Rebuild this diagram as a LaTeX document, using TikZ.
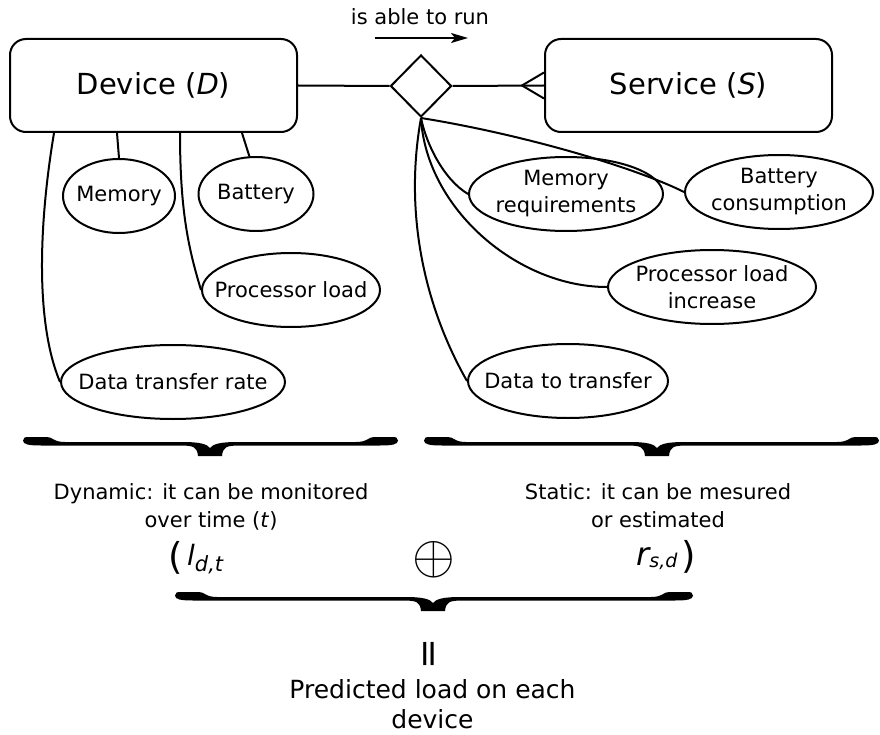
\documentclass[tikz,border=0pt]{standalone}
\usepackage{graphicx}
\usepackage{fontspec}
\setmainfont{DejaVu Sans}
\usetikzlibrary{shapes.geometric,arrows.meta,calc}

\newcommand\fsz[1]{\fontsize{#1}{#1}\selectfont}

% horizontal curly brace with heavy ends and stem: x-left, x-right, x-tip, y-top
\newcommand\curlybrace[4]{%
  \fill (#1,#4+3.5)
    .. controls (#1,#4+0.5) and (#1+2,#4) .. (#1+6,#4)
    -- (#1+24,#4)
    .. controls (#1+30,#4) and (#1+30,#4+5) .. (#1+42,#4+5)
    -- (#3-28,#4+5)
    .. controls (#3-10,#4+5) and (#3-3,#4+7) .. (#3,#4+11)
    .. controls (#3+3,#4+7) and (#3+10,#4+5) .. (#3+28,#4+5)
    -- (#2-42,#4+5)
    .. controls (#2-30,#4+5) and (#2-30,#4) .. (#2-24,#4)
    -- (#2-6,#4)
    .. controls (#2-2,#4) and (#2,#4+0.5) .. (#2,#4+3.5)
    .. controls (#2,#4+7.5) and (#2-6,#4+8.5) .. (#2-18,#4+8.5)
    -- (#3+30,#4+8.5)
    .. controls (#3+16,#4+8.5) and (#3+13,#4+10) .. (#3+12,#4+19)
    -- (#3-12,#4+19)
    .. controls (#3-13,#4+10) and (#3-16,#4+8.5) .. (#3-30,#4+8.5)
    -- (#1+18,#4+8.5)
    .. controls (#1+6,#4+8.5) and (#1,#4+7.5) .. (#1,#4+3.5) -- cycle;}

\tikzset{
  entity/.style={draw, line width=2pt, rounded corners=16pt,
    minimum width=287pt, minimum height=93pt, inner sep=0pt, font=\fsz{29}},
  oval/.style={draw, ellipse, line width=2pt, inner sep=0pt, minimum height=74pt},
  ovaltext/.style={align=center, inner sep=0pt, font=\fontsize{21}{27}\selectfont},
  relation/.style={draw, diamond, line width=2pt, inner sep=0pt,
    minimum width=61pt, minimum height=62pt},
  link/.style={line width=2pt},
  note/.style={align=center, inner sep=0pt, font=\fontsize{21}{28}\selectfont},
}

\begin{document}
\begin{tikzpicture}[x=1pt, y=-1pt]
\useasboundingbox (0,0) rectangle (880,735);

% entities and relationship
\node[entity] (dev) at (153.5,85.5) {Device (\textit{D})};
\node[entity] (srv) at (688.5,85.5) {Service (\textit{S})};
\node[relation] (rel) at (421,86) {};

\node[inner sep=0pt, font=\fsz{21}] (runlbl) at (420,17) {is able to run};
\coordinate (ra) at (375,38);
\coordinate (rb) at (468,38);
\draw[link, -{Stealth[length=17pt, width=10pt, inset=4pt]}] (ra) -- (rb);

\draw[link] (dev.east) -- (rel.west);
\draw[link] (rel.east) -- (srv.west);
\coordinate (crow) at ($(srv.west)+(-22,0)$);
\draw[link] ($(srv.west)+(0,-13)$) -- (crow) -- ($(srv.west)+(0,13)$);

% device attributes
\node[oval, minimum width=112pt] (mem) at (119,196) {};
\node[ovaltext] (memt) at (mem) {Memory};
\node[oval, minimum width=115pt] (bat) at (256,194) {};
\node[ovaltext] (batt) at (bat) {Battery};
\node[oval, minimum width=178pt] (proc) at (291,290) {};
\node[ovaltext] (proct) at (proc) {Processor load};
\node[oval, minimum width=224pt] (dtr) at (173,382) {};
\node[ovaltext] (dtrt) at (dtr) {Data transfer rate};

\draw[link] ($(dev.south west)+(108,0)$) -- (mem.north);
\draw[link] ($(dev.south west)+(233,0)$) -- (bat.100);
\draw[link] ($(dev.south west)+(171,0)$) .. controls +(0,80) and +(-12,-40) .. (proc.west);
\draw[link] ($(dev.south west)+(45,0)$) .. controls +(-15,90) and +(-25,-60) .. (dtr.west);

% service attributes
\node[oval, minimum width=194pt] (mr) at (566,194) {};
\node[ovaltext] (mrt) at (mr) {Memory\\requirements};
\node[oval, minimum width=188pt] (bc) at (779,192) {};
\node[ovaltext] (bct) at (bc) {Battery\\consumption};
\node[oval, minimum width=208pt] (pli) at (712,287) {};
\node[ovaltext] (plit) at (pli) {Processor load\\increase};
\node[oval, minimum width=200pt] (dtt) at (568,381) {};
\node[ovaltext] (dttt) at (dtt) {Data to transfer};

\draw[link] (rel.south) .. controls +(5,25) and +(-25,-15) .. (mr.west);
\draw[link] (rel.south) .. controls +(100,16) and +(-50,-25) .. (bc.west);
\draw[link] (rel.south) .. controls +(5,90) and +(-90,0) .. (pli.west);
\draw[link] (rel.south) .. controls +(-18,100) and +(-40,-70) .. (dtt.west);

% braces and their captions
\curlybrace{23}{398}{210}{437}
\curlybrace{424}{879}{657}{437}
\node[note] (dyn) at (211,507) {Dynamic: it can be monitored\\over time (\textit{t})};
\node[note] (sta) at (658,506) {Static: it can be mesured\\or estimated};

% combined load expression
\node[inner sep=0pt, font=\fsz{37}] (lpar) at (176,558) {(};
\node[inner sep=0pt, anchor=base west, font=\fsz{28}\itshape] (ldt) at (187,565)
  {l\raisebox{-6pt}{\fsz{21}d,t}};
\node[inner sep=0pt] (plus) at (434,560) {\scalebox{5.5}{$\oplus$}};
\node[inner sep=0pt, anchor=base west, font=\fsz{32}\itshape] (rsd) at (636,565)
  {r\raisebox{-2pt}{\fsz{19}s,d}};
\node[inner sep=0pt, font=\fsz{37}] (rpar) at (689,556.5) {)};

\curlybrace{175}{693}{433}{592}
\node[inner sep=0pt, rotate=90, font=\fsz{37}] (eq) at (432,654) {=};
\node[align=center, inner sep=0pt, font=\fontsize{25}{30}\selectfont] (pred) at (432.5,704)
  {Predicted load on each\\device};
\end{tikzpicture}
\end{document}
